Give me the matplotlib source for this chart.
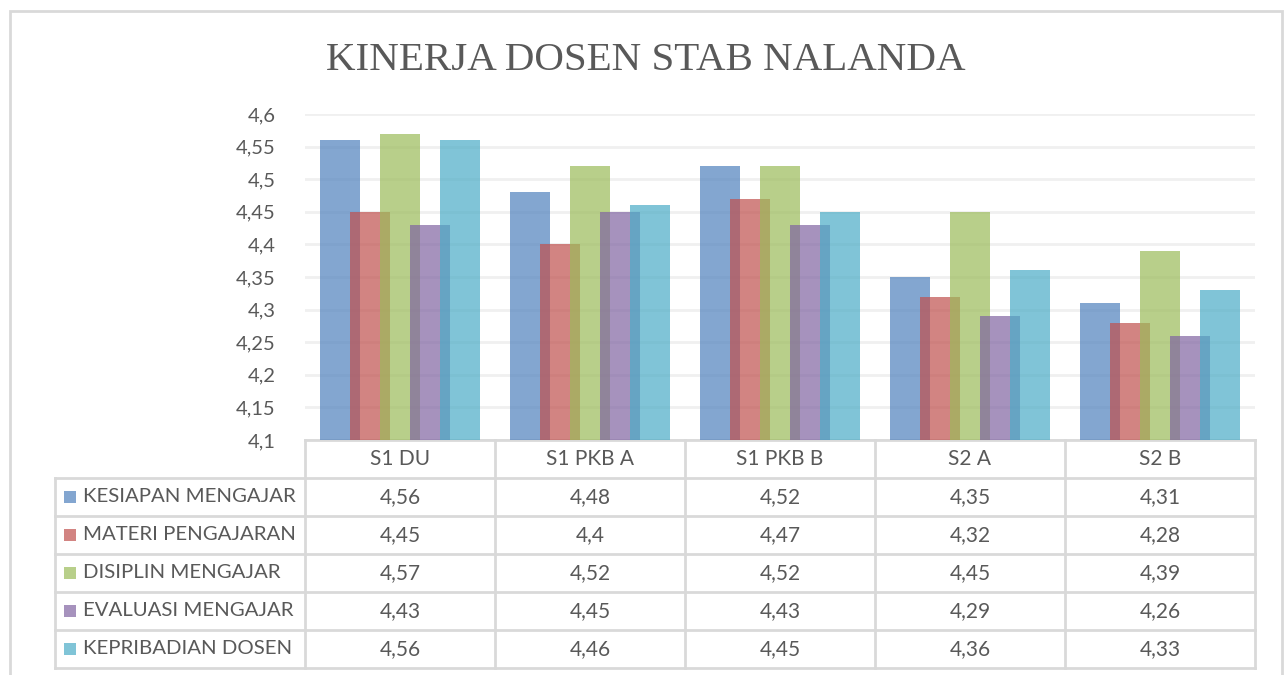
import numpy as np
import matplotlib.pyplot as plt
from matplotlib.patches import Rectangle
import matplotlib.transforms as mtransforms

# Data
categories = ["S1 DU", "S1 PKB A", "S1 PKB B", "S2 A", "S2 B"]
series_names = ["KESIAPAN MENGAJAR", "MATERI PENGAJARAN", "DISIPLIN MENGAJAR",
                "EVALUASI MENGAJAR", "KEPRIBADIAN DOSEN"]
kesiapan = [4.56, 4.48, 4.52, 4.35, 4.31]
materi = [4.45, 4.40, 4.47, 4.32, 4.28]
disiplin = [4.57, 4.52, 4.52, 4.45, 4.39]
evaluasi = [4.43, 4.45, 4.43, 4.29, 4.26]
kepribadian = [4.56, 4.46, 4.45, 4.36, 4.33]
yticks = [4.1, 4.15, 4.2, 4.25, 4.3, 4.35, 4.4, 4.45, 4.5, 4.55, 4.6]

series = [kesiapan, materi, disiplin, evaluasi, kepribadian]
colors = ["#4F81BD", "#C0504D", "#9BBB59", "#8064A2", "#4BACC6"]
text_col = "#595959"
line_col = "#D9D9D9"
font = "Lato"

def fmt(v):
    s = f"{v:.2f}".rstrip("0").rstrip(".")
    return s.replace(".", ",")

W, H = 1285, 675
fig = plt.figure(figsize=(W / 100, H / 100), dpi=100)
plt.rcParams['font.family'] = font

# outer chart border
fig.patches.append(Rectangle((10 / W, -0.01), 1272 / W, 1 - 11 / H + 0.01,
                             transform=fig.transFigure, fill=False,
                             edgecolor=line_col, linewidth=2))

ax_l, ax_r, ax_t, ax_b = 305, 1255, 114, 440
ax = fig.add_axes([ax_l / W, 1 - ax_b / H, (ax_r - ax_l) / W, (ax_b - ax_t) / H])

n = len(series)
x = np.arange(len(categories))
bw = 0.21
step = 0.158
offsets = (np.arange(n) - (n - 1) / 2) * step
for i in range(n):
    ax.bar(x + offsets[i], np.array(series[i]) - 4.1, bottom=4.1, width=bw,
           color=colors[i], alpha=0.7, linewidth=0, zorder=3)

ax.set_xlim(-0.5, len(categories) - 0.5)
ax.set_ylim(4.1, 4.6)
ax.set_yticks(yticks)
ax.set_yticklabels([fmt(v) for v in yticks], fontsize=14.5, color=text_col)
ax.tick_params(axis='y', length=0, pad=21)
ax.set_xticks([])
ax.grid(axis='y', color="#F0F0F0", linewidth=2, zorder=0)
for s in ax.spines.values():
    s.set_visible(False)

# data table below the plot
px_y = 1.0 / (ax_b - ax_t)  # one pixel in axes fraction
row_h = 38 * px_y
trans = mtransforms.blended_transform_factory(ax.transData, ax.transAxes)
px_x = len(categories) / (ax_r - ax_l)
x_left = -0.5 - (ax_l - 55) * px_x
x_right = len(categories) - 0.5

lw = 2
ax.plot([-0.5, x_right], [0, 0], transform=trans, color=line_col, lw=lw, clip_on=False)
for j in range(len(categories) + 1):
    ax.plot([j - 0.5, j - 0.5], [0, -row_h * 6], transform=trans, color=line_col,
            lw=lw, clip_on=False)
ax.plot([x_left, x_left], [-row_h, -row_h * 6], transform=trans, color=line_col,
        lw=lw, clip_on=False)
for r in range(1, 7):
    ax.plot([x_left, x_right], [-row_h * r, -row_h * r], transform=trans,
            color=line_col, lw=lw, clip_on=False)

for j, c in enumerate(categories):
    ax.text(j, -row_h * 0.5, c, transform=trans, ha='center', va='center',
            fontsize=15, color=text_col)

for i in range(n):
    yc = -row_h * (i + 1.5)
    ax.add_patch(Rectangle((x_left + 9 * px_x, yc - 6 * px_y), 12 * px_x, 12 * px_y,
                           transform=trans, color=colors[i], alpha=0.7, lw=0,
                           clip_on=False))
    ax.text(x_left + 28 * px_x, yc, series_names[i], transform=trans, ha='left',
            va='center', fontsize=14.7, color=text_col)
    for j in range(len(categories)):
        ax.text(j, yc, fmt(series[i][j]), transform=trans, ha='center',
                va='center', fontsize=15, color=text_col)

fig.text(646 / W, 1 - 60 / H, "KINERJA DOSEN STAB NALANDA", ha='center',
         va='center', fontsize=29.5, color=text_col, family="Liberation Serif")

fig.savefig("out.png", dpi=100)
